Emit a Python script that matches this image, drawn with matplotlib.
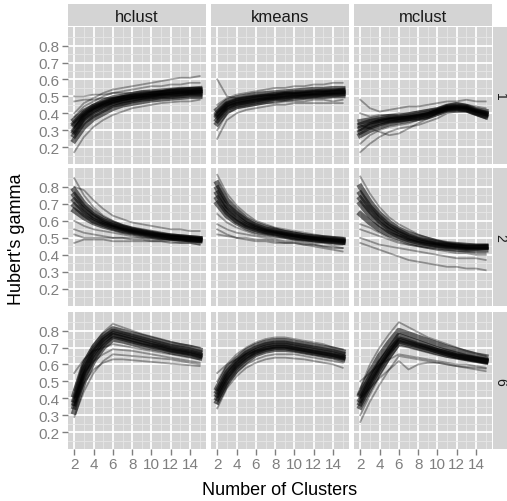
import matplotlib.pyplot as plt

plt.rcParams['font.family'] = ['Liberation Sans', 'DejaVu Sans']

ks = list(range(2, 16))
methods = ['hclust', 'kmeans', 'mclust']
rows = ['1', '2', '6']

# each list holds curves of Hubert's gamma for k = 2..15;
# the first curves of each list run through the dense core of the bundle
hclust_1 = [
    [0.30, 0.37, 0.41, 0.44, 0.46, 0.475, 0.485, 0.495, 0.50, 0.505, 0.51, 0.515, 0.52, 0.52],
    [0.36, 0.41, 0.44, 0.47, 0.49, 0.50, 0.51, 0.52, 0.525, 0.53, 0.535, 0.54, 0.54, 0.545],
    [0.24, 0.32, 0.37, 0.40, 0.43, 0.45, 0.46, 0.47, 0.48, 0.485, 0.49, 0.495, 0.50, 0.50],
    [0.27, 0.35, 0.39, 0.42, 0.45, 0.46, 0.475, 0.485, 0.49, 0.50, 0.50, 0.505, 0.51, 0.51],
    [0.33, 0.39, 0.43, 0.455, 0.475, 0.49, 0.50, 0.505, 0.51, 0.52, 0.525, 0.53, 0.53, 0.535],
    [0.29, 0.38, 0.42, 0.45, 0.47, 0.485, 0.495, 0.50, 0.51, 0.515, 0.52, 0.52, 0.525, 0.53],
    [0.34, 0.40, 0.44, 0.46, 0.48, 0.49, 0.50, 0.51, 0.515, 0.52, 0.53, 0.535, 0.54, 0.54],
    [0.40, 0.46, 0.49, 0.52, 0.54, 0.55, 0.56, 0.57, 0.58, 0.59, 0.60, 0.61, 0.61, 0.62],
    [0.50, 0.50, 0.51, 0.51, 0.52, 0.52, 0.52, 0.53, 0.53, 0.53, 0.54, 0.54, 0.55, 0.55],
    [0.17, 0.26, 0.32, 0.36, 0.39, 0.41, 0.43, 0.44, 0.45, 0.46, 0.465, 0.47, 0.47, 0.48],
    [0.47, 0.48, 0.48, 0.49, 0.49, 0.50, 0.50, 0.50, 0.51, 0.51, 0.51, 0.52, 0.52, 0.52],
    [0.38, 0.44, 0.47, 0.50, 0.52, 0.53, 0.54, 0.55, 0.56, 0.56, 0.57, 0.57, 0.58, 0.58],
]
kmeans_1 = [
    [0.38, 0.44, 0.46, 0.47, 0.48, 0.49, 0.495, 0.50, 0.505, 0.51, 0.51, 0.515, 0.52, 0.52],
    [0.42, 0.47, 0.49, 0.50, 0.51, 0.515, 0.52, 0.525, 0.53, 0.535, 0.54, 0.54, 0.545, 0.545],
    [0.34, 0.41, 0.44, 0.45, 0.46, 0.47, 0.48, 0.485, 0.49, 0.495, 0.50, 0.50, 0.505, 0.505],
    [0.36, 0.43, 0.45, 0.46, 0.47, 0.48, 0.49, 0.49, 0.50, 0.50, 0.505, 0.51, 0.51, 0.515],
    [0.40, 0.455, 0.475, 0.485, 0.495, 0.50, 0.51, 0.515, 0.52, 0.52, 0.525, 0.53, 0.53, 0.535],
    [0.39, 0.45, 0.47, 0.48, 0.49, 0.495, 0.50, 0.51, 0.51, 0.515, 0.52, 0.52, 0.525, 0.53],
    [0.60, 0.50, 0.49, 0.50, 0.50, 0.51, 0.51, 0.52, 0.52, 0.52, 0.53, 0.53, 0.53, 0.54],
    [0.45, 0.49, 0.51, 0.52, 0.53, 0.54, 0.55, 0.55, 0.56, 0.56, 0.57, 0.57, 0.58, 0.58],
    [0.25, 0.36, 0.40, 0.42, 0.43, 0.44, 0.45, 0.45, 0.46, 0.46, 0.46, 0.46, 0.46, 0.46],
    [0.30, 0.40, 0.43, 0.44, 0.45, 0.46, 0.46, 0.47, 0.47, 0.47, 0.48, 0.48, 0.47, 0.48],
]
mclust_1 = [
    [0.31, 0.33, 0.35, 0.36, 0.365, 0.37, 0.38, 0.39, 0.41, 0.43, 0.435, 0.43, 0.41, 0.395],
    [0.35, 0.36, 0.37, 0.38, 0.38, 0.39, 0.40, 0.41, 0.42, 0.44, 0.45, 0.44, 0.42, 0.41],
    [0.27, 0.30, 0.32, 0.34, 0.35, 0.36, 0.37, 0.38, 0.40, 0.42, 0.42, 0.42, 0.40, 0.38],
    [0.29, 0.32, 0.34, 0.355, 0.36, 0.37, 0.375, 0.39, 0.41, 0.425, 0.43, 0.425, 0.405, 0.39],
    [0.33, 0.35, 0.36, 0.37, 0.375, 0.38, 0.39, 0.40, 0.415, 0.435, 0.44, 0.435, 0.415, 0.40],
    [0.40, 0.38, 0.39, 0.39, 0.40, 0.40, 0.41, 0.42, 0.43, 0.45, 0.46, 0.45, 0.44, 0.43],
    [0.22, 0.27, 0.30, 0.32, 0.33, 0.34, 0.36, 0.37, 0.39, 0.41, 0.42, 0.41, 0.39, 0.37],
    [0.48, 0.43, 0.41, 0.42, 0.43, 0.44, 0.44, 0.45, 0.46, 0.47, 0.47, 0.48, 0.47, 0.47],
    [0.17, 0.22, 0.26, 0.29, 0.31, 0.32, 0.33, 0.35, 0.37, 0.40, 0.41, 0.41, 0.39, 0.37],
    [0.33, 0.31, 0.29, 0.27, 0.28, 0.31, 0.34, 0.37, 0.40, 0.42, 0.43, 0.43, 0.41, 0.40],
    [0.30, 0.34, 0.36, 0.37, 0.38, 0.38, 0.39, 0.40, 0.42, 0.44, 0.44, 0.44, 0.42, 0.41],
]
hclust_2 = [
    [0.72, 0.66, 0.62, 0.59, 0.57, 0.555, 0.54, 0.53, 0.52, 0.51, 0.505, 0.50, 0.495, 0.49],
    [0.78, 0.70, 0.65, 0.61, 0.585, 0.565, 0.55, 0.54, 0.53, 0.52, 0.51, 0.505, 0.50, 0.495],
    [0.66, 0.62, 0.59, 0.57, 0.555, 0.54, 0.53, 0.52, 0.51, 0.505, 0.50, 0.495, 0.49, 0.485],
    [0.75, 0.68, 0.63, 0.60, 0.58, 0.56, 0.545, 0.535, 0.525, 0.515, 0.51, 0.505, 0.50, 0.495],
    [0.69, 0.64, 0.60, 0.58, 0.56, 0.545, 0.535, 0.525, 0.515, 0.51, 0.50, 0.495, 0.49, 0.485],
    [0.85, 0.75, 0.68, 0.63, 0.60, 0.575, 0.56, 0.545, 0.535, 0.525, 0.515, 0.51, 0.505, 0.50],
    [0.80, 0.78, 0.72, 0.67, 0.63, 0.61, 0.59, 0.58, 0.57, 0.56, 0.55, 0.55, 0.54, 0.54],
    [0.60, 0.57, 0.55, 0.54, 0.53, 0.52, 0.51, 0.50, 0.50, 0.49, 0.49, 0.48, 0.48, 0.47],
    [0.55, 0.53, 0.52, 0.51, 0.50, 0.50, 0.49, 0.49, 0.48, 0.48, 0.48, 0.47, 0.47, 0.46],
    [0.47, 0.49, 0.49, 0.49, 0.48, 0.48, 0.48, 0.48, 0.48, 0.48, 0.47, 0.47, 0.47, 0.46],
    [0.52, 0.50, 0.50, 0.50, 0.50, 0.50, 0.50, 0.50, 0.49, 0.49, 0.49, 0.49, 0.48, 0.48],
]
kmeans_2 = [
    [0.76, 0.67, 0.62, 0.58, 0.56, 0.54, 0.53, 0.52, 0.51, 0.50, 0.495, 0.49, 0.485, 0.48],
    [0.82, 0.72, 0.66, 0.61, 0.58, 0.56, 0.545, 0.53, 0.52, 0.51, 0.505, 0.50, 0.495, 0.49],
    [0.70, 0.63, 0.59, 0.56, 0.54, 0.53, 0.52, 0.51, 0.50, 0.495, 0.49, 0.485, 0.48, 0.475],
    [0.79, 0.69, 0.64, 0.60, 0.57, 0.55, 0.54, 0.53, 0.52, 0.51, 0.50, 0.495, 0.49, 0.485],
    [0.73, 0.65, 0.60, 0.57, 0.55, 0.535, 0.525, 0.515, 0.505, 0.50, 0.49, 0.485, 0.48, 0.475],
    [0.87, 0.76, 0.69, 0.64, 0.60, 0.58, 0.56, 0.55, 0.54, 0.53, 0.52, 0.51, 0.505, 0.50],
    [0.64, 0.59, 0.56, 0.54, 0.52, 0.51, 0.50, 0.50, 0.49, 0.48, 0.47, 0.47, 0.46, 0.46],
    [0.58, 0.55, 0.53, 0.52, 0.51, 0.50, 0.49, 0.48, 0.48, 0.47, 0.46, 0.45, 0.45, 0.44],
    [0.52, 0.51, 0.50, 0.50, 0.49, 0.49, 0.48, 0.47, 0.47, 0.46, 0.45, 0.44, 0.43, 0.42],
    [0.55, 0.52, 0.50, 0.49, 0.48, 0.48, 0.47, 0.47, 0.47, 0.46, 0.46, 0.45, 0.44, 0.44],
]
mclust_2 = [
    [0.70, 0.63, 0.58, 0.54, 0.51, 0.49, 0.475, 0.465, 0.455, 0.45, 0.445, 0.44, 0.44, 0.445],
    [0.76, 0.68, 0.62, 0.57, 0.54, 0.51, 0.49, 0.48, 0.47, 0.46, 0.455, 0.45, 0.45, 0.45],
    [0.64, 0.59, 0.55, 0.52, 0.50, 0.48, 0.465, 0.455, 0.45, 0.44, 0.435, 0.43, 0.43, 0.43],
    [0.80, 0.71, 0.64, 0.59, 0.55, 0.525, 0.505, 0.49, 0.475, 0.465, 0.46, 0.455, 0.45, 0.45],
    [0.73, 0.66, 0.60, 0.555, 0.525, 0.50, 0.485, 0.47, 0.46, 0.455, 0.45, 0.445, 0.445, 0.445],
    [0.86, 0.76, 0.68, 0.62, 0.58, 0.55, 0.52, 0.50, 0.485, 0.47, 0.46, 0.455, 0.455, 0.455],
    [0.55, 0.53, 0.51, 0.49, 0.47, 0.46, 0.45, 0.44, 0.43, 0.42, 0.41, 0.41, 0.40, 0.40],
    [0.50, 0.48, 0.46, 0.45, 0.44, 0.43, 0.42, 0.41, 0.40, 0.39, 0.38, 0.38, 0.38, 0.37],
    [0.47, 0.45, 0.43, 0.41, 0.39, 0.37, 0.36, 0.35, 0.34, 0.33, 0.33, 0.32, 0.32, 0.31],
    [0.58, 0.56, 0.53, 0.50, 0.48, 0.46, 0.45, 0.44, 0.43, 0.43, 0.42, 0.42, 0.41, 0.41],
]
hclust_6 = [
    [0.37, 0.56, 0.67, 0.74, 0.78, 0.765, 0.75, 0.735, 0.72, 0.705, 0.69, 0.68, 0.67, 0.655],
    [0.32, 0.50, 0.62, 0.70, 0.75, 0.74, 0.725, 0.71, 0.70, 0.69, 0.675, 0.665, 0.655, 0.64],
    [0.42, 0.60, 0.70, 0.77, 0.81, 0.795, 0.78, 0.765, 0.75, 0.735, 0.72, 0.71, 0.70, 0.685],
    [0.35, 0.53, 0.64, 0.72, 0.77, 0.755, 0.74, 0.725, 0.71, 0.70, 0.685, 0.675, 0.665, 0.65],
    [0.39, 0.58, 0.685, 0.755, 0.795, 0.78, 0.765, 0.75, 0.735, 0.72, 0.705, 0.695, 0.685, 0.67],
    [0.45, 0.62, 0.72, 0.79, 0.84, 0.82, 0.80, 0.78, 0.765, 0.75, 0.735, 0.72, 0.71, 0.70],
    [0.55, 0.63, 0.68, 0.70, 0.72, 0.71, 0.70, 0.69, 0.68, 0.67, 0.66, 0.65, 0.64, 0.63],
    [0.29, 0.44, 0.55, 0.62, 0.66, 0.655, 0.65, 0.645, 0.64, 0.635, 0.63, 0.62, 0.61, 0.60],
    [0.40, 0.55, 0.62, 0.66, 0.69, 0.685, 0.68, 0.67, 0.66, 0.65, 0.64, 0.63, 0.62, 0.61],
    [0.36, 0.49, 0.57, 0.61, 0.63, 0.63, 0.625, 0.62, 0.615, 0.61, 0.605, 0.60, 0.595, 0.59],
]
kmeans_6 = [
    [0.42, 0.53, 0.60, 0.65, 0.68, 0.70, 0.71, 0.71, 0.70, 0.69, 0.68, 0.67, 0.66, 0.645],
    [0.38, 0.49, 0.57, 0.62, 0.66, 0.68, 0.69, 0.69, 0.685, 0.675, 0.665, 0.655, 0.645, 0.63],
    [0.46, 0.57, 0.63, 0.68, 0.71, 0.73, 0.74, 0.74, 0.73, 0.72, 0.71, 0.70, 0.69, 0.675],
    [0.40, 0.51, 0.585, 0.635, 0.67, 0.69, 0.70, 0.70, 0.69, 0.68, 0.67, 0.66, 0.65, 0.64],
    [0.44, 0.55, 0.615, 0.665, 0.695, 0.715, 0.725, 0.725, 0.715, 0.705, 0.695, 0.685, 0.675, 0.66],
    [0.50, 0.60, 0.66, 0.70, 0.73, 0.75, 0.76, 0.76, 0.75, 0.74, 0.73, 0.72, 0.70, 0.69],
    [0.55, 0.60, 0.63, 0.66, 0.68, 0.69, 0.70, 0.70, 0.69, 0.68, 0.67, 0.66, 0.65, 0.64],
    [0.34, 0.46, 0.53, 0.58, 0.61, 0.63, 0.64, 0.64, 0.635, 0.63, 0.62, 0.61, 0.60, 0.58],
    [0.37, 0.48, 0.55, 0.60, 0.63, 0.65, 0.66, 0.66, 0.66, 0.65, 0.64, 0.63, 0.62, 0.61],
]
mclust_6 = [
    [0.39, 0.50, 0.60, 0.69, 0.77, 0.75, 0.73, 0.71, 0.69, 0.675, 0.66, 0.645, 0.635, 0.625],
    [0.35, 0.46, 0.56, 0.65, 0.73, 0.715, 0.70, 0.685, 0.67, 0.655, 0.645, 0.635, 0.625, 0.615],
    [0.43, 0.55, 0.65, 0.73, 0.80, 0.78, 0.76, 0.74, 0.72, 0.70, 0.685, 0.67, 0.655, 0.645],
    [0.37, 0.48, 0.58, 0.67, 0.75, 0.735, 0.715, 0.70, 0.68, 0.665, 0.65, 0.64, 0.63, 0.62],
    [0.42, 0.52, 0.61, 0.68, 0.74, 0.725, 0.71, 0.695, 0.68, 0.665, 0.65, 0.64, 0.63, 0.62],
    [0.30, 0.42, 0.53, 0.63, 0.71, 0.70, 0.685, 0.67, 0.655, 0.645, 0.635, 0.625, 0.615, 0.605],
    [0.46, 0.60, 0.70, 0.78, 0.85, 0.82, 0.79, 0.76, 0.74, 0.72, 0.70, 0.68, 0.665, 0.65],
    [0.50, 0.55, 0.60, 0.63, 0.66, 0.65, 0.64, 0.63, 0.62, 0.61, 0.60, 0.60, 0.59, 0.58],
    [0.40, 0.46, 0.52, 0.57, 0.62, 0.57, 0.60, 0.61, 0.61, 0.60, 0.59, 0.58, 0.57, 0.56],
    [0.26, 0.38, 0.48, 0.57, 0.65, 0.64, 0.63, 0.62, 0.61, 0.60, 0.59, 0.585, 0.58, 0.575],
]

panels = [[hclust_1, kmeans_1, mclust_1],
          [hclust_2, kmeans_2, mclust_2],
          [hclust_6, kmeans_6, mclust_6]]
# how many leading curves of each list belong to the dense core
n_core = [[7, 6, 5],
          [5, 5, 5],
          [5, 5, 5]]

W, H = 507, 502
fig = plt.figure(figsize=(W / 100, H / 100), dpi=100)

def box(x0, y0, x1, y1):
    # pixel box (top-left origin) -> figure fraction rect
    return [x0 / W, 1 - y1 / H, (x1 - x0) / W, (y1 - y0) / H]

col_x = [(68, 206), (211, 349), (354, 492)]
row_y = [(28, 165), (169, 307), (313, 450)]
panel_bg = '#D4D4D4'
strip_bg = '#D4D4D4'
grey50 = '#7F7F7F'

for i, (y0, y1) in enumerate(row_y):
    for j, (x0, x1) in enumerate(col_x):
        ax = fig.add_axes(box(x0, y0, x1, y1))
        ax.set_facecolor(panel_bg)
        ax.set_xlim(1.35, 15.65)
        ax.set_ylim(0.10, 0.91)
        ax.set_xticks(range(2, 16, 2))
        ax.set_xticks(range(3, 16, 2), minor=True)
        ax.set_yticks([0.2, 0.3, 0.4, 0.5, 0.6, 0.7, 0.8])
        ax.set_yticks([0.15, 0.25, 0.35, 0.45, 0.55, 0.65, 0.75, 0.85], minor=True)
        ax.grid(which='major', color='white', lw=1.3)
        ax.grid(which='minor', color='#E6E6E6', lw=0.6)
        ax.set_axisbelow(True)
        for s in ax.spines.values():
            s.set_visible(False)
        ax.tick_params(which='minor', length=0)
        ax.tick_params(which='major', length=4, width=1, color=grey50,
                       labelcolor=grey50, labelsize=11, pad=2)
        if i < 2:
            ax.tick_params(axis='x', which='major', length=0, labelbottom=False)
        if j > 0:
            ax.tick_params(axis='y', which='major', length=0, labelleft=False)
        curves = panels[i][j]
        nc = n_core[i][j]
        for curve in curves[nc:]:
            ax.plot(ks, curve, color='black', alpha=0.35, lw=1.3)
        for curve in curves[:nc]:
            ax.plot(ks, curve, color='black', alpha=0.55, lw=4.0,
                    solid_joinstyle='round')

# top strips
for j, (x0, x1) in enumerate(col_x):
    sax = fig.add_axes(box(x0, 5, x1, 27))
    sax.set_facecolor(strip_bg)
    sax.set_xticks([])
    sax.set_yticks([])
    for s in sax.spines.values():
        s.set_visible(False)
    sax.text(0.5, 0.45, methods[j], ha='center', va='center', fontsize=12,
             color='#1A1A1A', transform=sax.transAxes)

# right strips
for i, (y0, y1) in enumerate(row_y):
    sax = fig.add_axes(box(493, y0, 507, y1))
    sax.set_facecolor(strip_bg)
    sax.set_xticks([])
    sax.set_yticks([])
    for s in sax.spines.values():
        s.set_visible(False)
    sax.text(0.5, 0.5, rows[i], ha='center', va='center', fontsize=10,
             rotation=-90, color='#1A1A1A', transform=sax.transAxes)

fig.text(280 / W, 1 - 491 / H, 'Number of Clusters', ha='center', va='center',
         fontsize=13)
fig.text(17 / W, 1 - 239 / H, "Hubert's gamma", ha='center', va='center',
         fontsize=13, rotation=90)

fig.savefig('out.png', dpi=100, facecolor='white')
